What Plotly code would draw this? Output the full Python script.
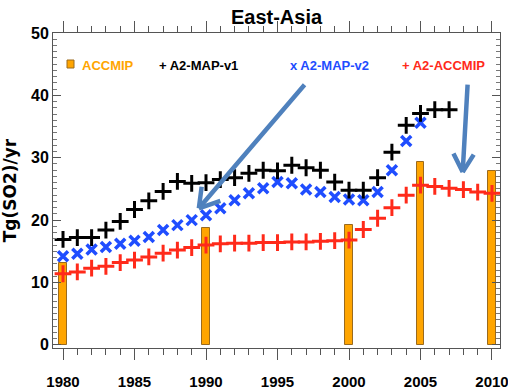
import plotly.graph_objects as go

# Annual SO2 emissions over East Asia, Tg(SO2)/yr
years_v1 = list(range(1980, 2008))
a2_map_v1 = [16.9, 17.2, 17.2, 18.4, 19.8, 21.7, 23.1, 24.6, 26.2, 25.9,
             26.0, 26.5, 26.8, 27.5, 28.0, 27.9, 28.8, 28.4, 28.0, 26.1,
             24.8, 24.8, 26.8, 30.9, 35.2, 37.1, 37.7, 37.7]

years_v2 = list(range(1980, 2006))
a2_map_v2 = [14.2, 14.6, 15.3, 15.7, 16.2, 16.7, 17.3, 18.4, 19.2, 20.0,
             20.8, 21.9, 23.2, 24.3, 25.1, 26.1, 25.9, 24.9, 24.5, 23.7,
             23.3, 23.2, 24.5, 28.0, 32.7, 35.6]

years_acc = list(range(1980, 2011))
a2_accmip = [11.4, 11.7, 12.3, 12.6, 13.2, 13.6, 14.1, 14.7, 15.2, 15.6,
             16.0, 16.2, 16.3, 16.3, 16.4, 16.4, 16.5, 16.5, 16.6, 16.7,
             16.8, 18.5, 20.3, 22.0, 24.0, 25.6, 25.4, 25.1, 24.9, 24.5,
             24.3]

accmip_years = [1980, 1990, 2000, 2005, 2010]
accmip = [13.2, 18.7, 19.2, 29.3, 27.8]

x_ticks = [1980, 1985, 1990, 1995, 2000, 2005, 2010]
y_ticks = [0, 10, 20, 30, 40, 50]

ORANGE = "#FFA500"
BLUE = "#1F4DFF"
RED = "#FF2A1A"
ARROW = "#4F81BD"
SANS = "Liberation Sans, Arial, Helvetica"

fig = go.Figure()

fig.add_trace(go.Bar(
    x=accmip_years, y=accmip, width=0.5,
    marker=dict(color=ORANGE, line=dict(color="#9A6A1E", width=1)),
    showlegend=False))

fig.add_trace(go.Scatter(
    x=years_v2, y=a2_map_v2, mode="markers",
    marker=dict(symbol="x-thin", size=10, line=dict(color=BLUE, width=3.5)),
    showlegend=False))

fig.add_trace(go.Scatter(
    x=years_v1, y=a2_map_v1, mode="markers",
    marker=dict(symbol="cross-thin", size=12, line=dict(color="black", width=3)),
    showlegend=False))

fig.add_trace(go.Scatter(
    x=years_acc, y=a2_accmip, mode="markers",
    marker=dict(symbol="cross-thin", size=12, line=dict(color=RED, width=3)),
    showlegend=False))

# pixel geometry of the plotting box
L, R, T, B = 53, 8, 33, 43
W, H = 508, 391
pw, ph = W - L - R, H - T - B


def px(x):
    return (x - L) / pw


def py(y):
    return (H - B - y) / ph


# in-plot legend
legend_items = [
    ("ACCMIP", ORANGE, 80),
    ("+ A2-MAP-v1", "black", 157),
    ("x A2-MAP-v2", BLUE, 288),
    ("+ A2-ACCMIP", RED, 400),
]
annotations = []
for label, color, left in legend_items:
    annotations.append(dict(
        text="<b>%s</b>" % label, xref="paper", yref="paper",
        x=px(left), y=py(65), xanchor="left", yanchor="middle",
        showarrow=False, font=dict(family=SANS, size=13, color=color)))

shapes = [dict(type="rect", xref="paper", yref="paper",
               x0=px(67), x1=px(74), y0=py(68), y1=py(60),
               fillcolor=ORANGE, line=dict(color="#9A6A1E", width=1))]

# pointer arrows: (tip year, tip value, tail offset, wing offsets) in pixels
arrows = [
    (1989.5, 21.9, (107, -125), [(3, -23), (23, -8)]),
    (2007.95, 27.7, (5, -89), [(-10, -20), (12, -19)]),
]
for xt, yt, tail, wings in arrows:
    for ax, ay in [tail] + wings:
        annotations.append(dict(
            x=xt, y=yt, xref="x", yref="y", ax=ax, ay=ay, text="",
            showarrow=True, arrowhead=0, arrowwidth=4.5, arrowcolor=ARROW,
            standoff=0, startstandoff=0))

fig.update_layout(
    width=W, height=H,
    margin=dict(l=L, r=R, t=T, b=B),
    paper_bgcolor="white", plot_bgcolor="white",
    title=dict(text="<b>East-Asia</b>", xref="paper", x=0.5, xanchor="center",
               yref="container", y=1 - 17 / H, yanchor="middle",
               font=dict(family=SANS, size=20, color="black")),
    annotations=annotations, shapes=shapes,
    bargap=0,
)

fig.update_xaxes(
    automargin=False,
    range=[1979.3, 2010.56], tickvals=x_ticks, ticktext=[str(v) for v in x_ticks],
    ticks="outside", ticklen=11, tickwidth=1, tickcolor="#555",
    minor=dict(dtick=1, ticks="outside", ticklen=6, tickcolor="#555", showgrid=False),
    showline=True, linecolor="#555", linewidth=1, mirror="allticks",
    showgrid=False, zeroline=False,
    ticklabelstandoff=9, ticklabeloverflow="allow",
    tickfont=dict(family=SANS, size=15, color="black", weight="bold"),
)

fig.update_yaxes(
    automargin=False,
    range=[-0.5, 50], tickvals=y_ticks,
    ticks="inside", ticklen=8, tickwidth=1, tickcolor="#555",
    minor=dict(dtick=1, ticks="inside", ticklen=4, tickcolor="#777", showgrid=False),
    showline=True, linecolor="#555", linewidth=1, mirror="allticks",
    showgrid=False, zeroline=False,
    tickfont=dict(family=SANS, size=16, color="black", weight="bold"),
    title=dict(text="<b>Tg(SO2)/yr</b>", standoff=10,
               font=dict(family="DejaVu Sans", size=17, color="black")),
)

fig.write_html("out.html")
